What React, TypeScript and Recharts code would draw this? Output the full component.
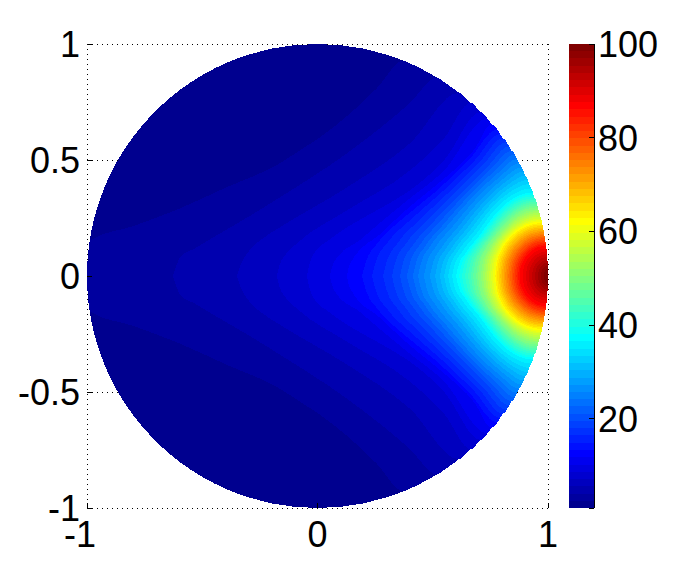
import { Area, CartesianGrid, ComposedChart, XAxis, YAxis } from "recharts";

const FONT = "'Liberation Sans', Arial, sans-serif";

const xTicks = [-1, 0, 1];
const yTicks = [-1, -0.5, 0, 0.5, 1];
const colorbarTicks = [1, 20, 40, 60, 80, 100];

// jet colormap, one colour per band
const bandColors = [
  "#00008f", "#00009f", "#0000af", "#0000bf", "#0000cf", "#0000df", "#0000ef", "#0000ff",
  "#0010ff", "#0020ff", "#0030ff", "#0040ff", "#0050ff", "#0060ff", "#0070ff", "#0080ff",
  "#008fff", "#009fff", "#00afff", "#00bfff", "#00cfff", "#00dfff", "#00efff", "#00ffff",
  "#10ffef", "#20ffdf", "#30ffcf", "#40ffbf", "#50ffaf", "#60ff9f", "#70ff8f", "#80ff80",
  "#8fff70", "#9fff60", "#afff50", "#bfff40", "#cfff30", "#dfff20", "#efff10", "#ffff00",
  "#ffef00", "#ffdf00", "#ffcf00", "#ffbf00", "#ffaf00", "#ff9f00", "#ff8f00", "#ff8000",
  "#ff7000", "#ff6000", "#ff5000", "#ff4000", "#ff3000", "#ff2000", "#ff1000", "#ff0000",
  "#ef0000", "#df0000", "#cf0000", "#bf0000", "#af0000", "#9f0000", "#8f0000", "#800000",
];

const colorbarEdges = [
  1, 2.55, 4.09, 5.64, 7.19, 8.73, 10.28, 11.83, 13.38, 14.92, 16.47, 18.02, 19.56, 21.11, 22.66, 24.2,
  25.75, 27.3, 28.84, 30.39, 31.94, 33.48, 35.03, 36.58, 38.13, 39.67, 41.22, 42.77, 44.31, 45.86, 47.41, 48.95,
  50.5, 52.05, 53.59, 55.14, 56.69, 58.23, 59.78, 61.33, 62.88, 64.42, 65.97, 67.52, 69.06, 70.61, 72.16, 73.7,
  75.25, 76.8, 78.34, 79.89, 81.44, 82.98, 84.53, 86.08, 87.63, 89.17, 90.72, 92.27, 93.81, 95.36, 96.91, 98.45, 100,
];

// outline of the disk (upper half, image is mirrored about y = 0)
const diskX = [
  -1, -0.9995, -0.998, -0.996, -0.993, -0.99, -0.985, -0.98, -0.97, -0.96, -0.94, -0.92, -0.9, -0.87, -0.84, -0.8,
  -0.75, -0.7, -0.65, -0.6, -0.55, -0.5, -0.45, -0.4, -0.35, -0.3, -0.2, -0.1, 0, 0.1, 0.2, 0.3,
  0.35, 0.4, 0.45, 0.5, 0.55, 0.6, 0.65, 0.7, 0.75, 0.8, 0.84, 0.87, 0.9, 0.92, 0.94, 0.96,
  0.97, 0.98, 0.985, 0.99, 0.993, 0.996, 0.998, 0.9995, 1,
];
const diskH = [
  0, 0.032, 0.063, 0.089, 0.118, 0.141, 0.173, 0.199, 0.243, 0.28, 0.341, 0.392, 0.436, 0.493, 0.543, 0.6,
  0.661, 0.714, 0.76, 0.8, 0.835, 0.866, 0.893, 0.917, 0.937, 0.954, 0.98, 0.995, 1, 0.995, 0.98, 0.954,
  0.937, 0.917, 0.893, 0.866, 0.835, 0.8, 0.76, 0.714, 0.661, 0.6, 0.543, 0.493, 0.436, 0.392, 0.341, 0.28,
  0.243, 0.199, 0.173, 0.141, 0.118, 0.089, 0.063, 0.032, 0,
];

// contour of level n+1: x positions and half-height at each x
const contourX = [
  [-0.987, -0.8, -0.6, -0.4, -0.163, -0.076, 0.011, 0.141, 0.258, 0.372],
  [-0.627, -0.61, -0.597, -0.53, -0.453, -0.3, -0.163, 0.128, 0.4, 0.518],
  [-0.349, -0.335, -0.306, -0.24, -0.163, 0.128, 0.401, 0.612],
  [-0.176, -0.165, -0.14, -0.09, 0.128, 0.401, 0.55, 0.665],
  [-0.046, -0.035, -0.02, 0.05, 0.128, 0.27, 0.401, 0.55, 0.707],
  [0.054, 0.062, 0.076, 0.184, 0.29, 0.401, 0.55, 0.735],
  [0.128, 0.136, 0.15, 0.271, 0.401, 0.55, 0.68, 0.755],
  [0.193, 0.211, 0.263, 0.368, 0.514, 0.66, 0.777],
  [0.236, 0.253, 0.303, 0.403, 0.541, 0.68, 0.791],
  [0.284, 0.3, 0.346, 0.44, 0.57, 0.7, 0.804],
  [0.323, 0.338, 0.382, 0.471, 0.595, 0.718, 0.817],
  [0.358, 0.372, 0.415, 0.5, 0.618, 0.736, 0.83],
  [0.388, 0.402, 0.442, 0.524, 0.638, 0.751, 0.842],
  [0.414, 0.427, 0.467, 0.546, 0.655, 0.765, 0.853],
  [0.436, 0.449, 0.487, 0.564, 0.671, 0.778, 0.864],
  [0.462, 0.474, 0.511, 0.586, 0.689, 0.792, 0.874],
  [0.488, 0.5, 0.536, 0.607, 0.706, 0.805, 0.884],
  [0.51, 0.521, 0.556, 0.625, 0.721, 0.816, 0.893],
  [0.531, 0.542, 0.576, 0.642, 0.735, 0.828, 0.902],
  [0.549, 0.56, 0.592, 0.657, 0.748, 0.838, 0.91],
  [0.566, 0.577, 0.608, 0.672, 0.76, 0.848, 0.918],
  [0.584, 0.594, 0.625, 0.687, 0.772, 0.858, 0.926],
  [0.601, 0.611, 0.641, 0.701, 0.784, 0.867, 0.933],
  [0.614, 0.624, 0.653, 0.711, 0.791, 0.872, 0.936],
  [0.627, 0.636, 0.664, 0.721, 0.799, 0.877, 0.939],
  [0.64, 0.649, 0.676, 0.731, 0.806, 0.882, 0.942],
  [0.653, 0.662, 0.688, 0.741, 0.814, 0.887, 0.945],
  [0.666, 0.674, 0.7, 0.75, 0.821, 0.891, 0.947],
  [0.675, 0.683, 0.708, 0.758, 0.826, 0.895, 0.95],
  [0.688, 0.696, 0.72, 0.768, 0.834, 0.9, 0.953],
  [0.696, 0.704, 0.727, 0.774, 0.838, 0.903, 0.955],
  [0.709, 0.716, 0.739, 0.784, 0.846, 0.908, 0.958],
  [0.718, 0.725, 0.747, 0.791, 0.851, 0.912, 0.96],
  [0.727, 0.734, 0.755, 0.798, 0.856, 0.915, 0.962],
  [0.735, 0.742, 0.763, 0.804, 0.862, 0.919, 0.965],
  [0.744, 0.751, 0.771, 0.811, 0.867, 0.922, 0.967],
  [0.753, 0.759, 0.779, 0.818, 0.872, 0.926, 0.969],
  [0.761, 0.767, 0.786, 0.824, 0.877, 0.929, 0.971],
  [0.77, 0.776, 0.794, 0.831, 0.881, 0.932, 0.972],
  [0.772, 0.778, 0.796, 0.833, 0.883, 0.934, 0.974],
  [0.779, 0.785, 0.803, 0.838, 0.887, 0.936, 0.975],
  [0.786, 0.792, 0.809, 0.843, 0.891, 0.939, 0.977],
  [0.793, 0.799, 0.815, 0.849, 0.895, 0.941, 0.978],
  [0.8, 0.805, 0.821, 0.854, 0.898, 0.943, 0.979],
  [0.807, 0.812, 0.828, 0.859, 0.903, 0.946, 0.981],
  [0.814, 0.819, 0.834, 0.864, 0.906, 0.948, 0.982],
  [0.821, 0.826, 0.84, 0.87, 0.91, 0.951, 0.983],
  [0.828, 0.833, 0.847, 0.875, 0.914, 0.953, 0.984],
  [0.835, 0.84, 0.853, 0.88, 0.918, 0.956, 0.986],
  [0.842, 0.846, 0.859, 0.886, 0.922, 0.958, 0.987],
  [0.849, 0.853, 0.866, 0.891, 0.925, 0.96, 0.988],
  [0.856, 0.86, 0.872, 0.896, 0.929, 0.962, 0.989],
  [0.863, 0.867, 0.878, 0.901, 0.933, 0.965, 0.99],
  [0.87, 0.874, 0.885, 0.906, 0.937, 0.967, 0.991],
  [0.877, 0.88, 0.891, 0.912, 0.94, 0.969, 0.992],
  [0.89, 0.893, 0.902, 0.921, 0.947, 0.972, 0.993],
  [0.904, 0.907, 0.915, 0.931, 0.954, 0.976, 0.994],
  [0.917, 0.919, 0.926, 0.941, 0.96, 0.98, 0.9956],
  [0.931, 0.933, 0.939, 0.951, 0.967, 0.984, 0.9966],
  [0.944, 0.946, 0.95, 0.96, 0.974, 0.987, 0.9975],
  [0.957, 0.958, 0.962, 0.969, 0.98, 0.99, 0.9983],
  [0.97, 0.971, 0.973, 0.979, 0.986, 0.993, 0.9989],
  [0.983, 0.9835, 0.985, 0.988, 0.992, 0.996, 0.9994],
];
const contourH = [
  [0.153, 0.215, 0.29, 0.38, 0.486, 0.542, 0.598, 0.7, 0.81, 0.928],
  [0, 0.05, 0.08, 0.12, 0.166, 0.255, 0.339, 0.529, 0.745, 0.855],
  [0, 0.045, 0.097, 0.16, 0.21, 0.382, 0.572, 0.79],
  [0, 0.045, 0.09, 0.14, 0.283, 0.455, 0.595, 0.747],
  [0, 0.05, 0.09, 0.155, 0.21, 0.29, 0.369, 0.5, 0.707],
  [0, 0.035, 0.067, 0.155, 0.245, 0.335, 0.455, 0.678],
  [0, 0.04, 0.067, 0.18, 0.3, 0.42, 0.545, 0.655],
  [0, 0.063, 0.145, 0.246, 0.365, 0.504, 0.63],
  [0, 0.062, 0.143, 0.242, 0.363, 0.496, 0.612],
  [0, 0.061, 0.14, 0.239, 0.361, 0.488, 0.594],
  [0, 0.06, 0.137, 0.235, 0.357, 0.479, 0.576],
  [0, 0.059, 0.134, 0.231, 0.353, 0.469, 0.558],
  [0, 0.058, 0.131, 0.227, 0.349, 0.46, 0.54],
  [0, 0.056, 0.128, 0.222, 0.345, 0.45, 0.522],
  [0, 0.055, 0.125, 0.218, 0.339, 0.439, 0.504],
  [0, 0.054, 0.122, 0.213, 0.334, 0.429, 0.486],
  [0, 0.052, 0.119, 0.208, 0.328, 0.418, 0.468],
  [0, 0.051, 0.116, 0.203, 0.321, 0.406, 0.45],
  [0, 0.05, 0.112, 0.197, 0.314, 0.395, 0.432],
  [0, 0.048, 0.108, 0.191, 0.306, 0.383, 0.414],
  [0, 0.046, 0.105, 0.185, 0.298, 0.37, 0.396],
  [0, 0.045, 0.101, 0.179, 0.29, 0.357, 0.378],
  [0, 0.043, 0.097, 0.173, 0.281, 0.344, 0.36],
  [0, 0.045, 0.1, 0.174, 0.277, 0.337, 0.352],
  [0, 0.046, 0.101, 0.175, 0.273, 0.33, 0.344],
  [0, 0.048, 0.103, 0.176, 0.269, 0.323, 0.336],
  [0, 0.049, 0.105, 0.176, 0.265, 0.315, 0.328],
  [0, 0.051, 0.107, 0.177, 0.26, 0.308, 0.32],
  [0, 0.051, 0.108, 0.177, 0.256, 0.301, 0.312],
  [0, 0.053, 0.109, 0.177, 0.252, 0.294, 0.304],
  [0, 0.053, 0.11, 0.176, 0.247, 0.287, 0.296],
  [0, 0.054, 0.11, 0.176, 0.242, 0.279, 0.288],
  [0, 0.055, 0.111, 0.175, 0.238, 0.272, 0.28],
  [0, 0.055, 0.111, 0.174, 0.233, 0.264, 0.272],
  [0, 0.055, 0.111, 0.172, 0.228, 0.257, 0.264],
  [0, 0.056, 0.111, 0.171, 0.222, 0.25, 0.256],
  [0, 0.056, 0.11, 0.169, 0.217, 0.242, 0.248],
  [0, 0.056, 0.11, 0.168, 0.213, 0.236, 0.241],
  [0, 0.056, 0.11, 0.167, 0.209, 0.23, 0.235],
  [0, 0.055, 0.107, 0.162, 0.203, 0.223, 0.228],
  [0, 0.053, 0.104, 0.158, 0.198, 0.218, 0.222],
  [0, 0.052, 0.101, 0.153, 0.191, 0.211, 0.215],
  [0, 0.05, 0.098, 0.148, 0.186, 0.205, 0.209],
  [0, 0.048, 0.095, 0.143, 0.18, 0.198, 0.202],
  [0, 0.047, 0.092, 0.138, 0.174, 0.191, 0.195],
  [0, 0.045, 0.089, 0.134, 0.168, 0.185, 0.189],
  [0, 0.044, 0.086, 0.129, 0.162, 0.178, 0.182],
  [0, 0.042, 0.083, 0.125, 0.157, 0.172, 0.176],
  [0, 0.041, 0.079, 0.12, 0.15, 0.166, 0.169],
  [0, 0.039, 0.077, 0.116, 0.145, 0.16, 0.163],
  [0, 0.037, 0.073, 0.111, 0.139, 0.153, 0.156],
  [0, 0.036, 0.071, 0.107, 0.134, 0.147, 0.15],
  [0, 0.034, 0.067, 0.102, 0.127, 0.14, 0.143],
  [0, 0.033, 0.064, 0.097, 0.122, 0.134, 0.137],
  [0, 0.031, 0.061, 0.092, 0.116, 0.127, 0.13],
  [0, 0.028, 0.055, 0.084, 0.105, 0.116, 0.118],
  [0, 0.025, 0.05, 0.075, 0.094, 0.104, 0.106],
  [0, 0.023, 0.044, 0.067, 0.084, 0.092, 0.094],
  [0, 0.02, 0.039, 0.058, 0.073, 0.08, 0.082],
  [0, 0.017, 0.033, 0.05, 0.062, 0.069, 0.07],
  [0, 0.014, 0.027, 0.041, 0.052, 0.057, 0.058],
  [0, 0.011, 0.022, 0.033, 0.041, 0.045, 0.046],
  [0, 0.008, 0.016, 0.024, 0.03, 0.033, 0.034],
];

const diskRows = diskX.map((x, i) => ({ x, band: [-diskH[i], diskH[i]] }));

// a level's region: its own contour, then the disk edge out to x = 1
const levelRows = contourX.map((xs, n) => {
  const own = xs.map((x, i) => ({ x, band: [-contourH[n][i], contourH[n][i]] }));
  const first = xs[0];
  const last = xs[xs.length - 1];
  const head = n === 0 ? diskRows.filter((r) => r.x < first) : [];
  return [...head, ...own, ...diskRows.filter((r) => r.x > last)];
});

const colorbarRows = bandColors.map((_, i) => [
  { x: 0, band: [colorbarEdges[i], colorbarEdges[i + 1]] },
  { x: 1, band: [colorbarEdges[i], colorbarEdges[i + 1]] },
]);

const tickStyle = { fill: "#000", fontSize: 36, fontFamily: FONT };

// the negative label sits a little left of its tick in the original
function XTick({ x, y, payload }: any) {
  return (
    <text x={payload.value < 0 ? x - 7 : x} y={y} dy="0.71em" textAnchor="middle" {...tickStyle}>
      {payload.value}
    </text>
  );
}

export default function App() {
  return (
    <div style={{ position: "absolute", left: 0, top: 0, width: 678, height: 570, background: "#fff", overflow: "hidden" }}>
      {/* disk with filled contours */}
      <div style={{ position: "absolute", left: 0, top: 0, shapeRendering: "crispEdges" }}>
        <ComposedChart width={678} height={570} margin={{ left: 7, right: 130, top: 44, bottom: 19 }}>
          <CartesianGrid
            stroke="#000"
            strokeDasharray="1 4"
            horizontalValues={yTicks}
            verticalValues={xTicks}
          />
          <XAxis
            type="number"
            dataKey="x"
            domain={[-1, 1]}
            ticks={xTicks}
            interval={0}
            height={43}
            allowDataOverflow
            axisLine={false}
            tickSize={-5}
            tickMargin={18}
            tickLine={{ stroke: "#000" }}
            tick={<XTick />}
          />
          <YAxis
            type="number"
            domain={[-1, 1]}
            ticks={yTicks}
            interval={0}
            width={80}
            allowDataOverflow
            axisLine={false}
            tickSize={-5}
            tickMargin={12}
            tickLine={{ stroke: "#000" }}
            tick={tickStyle}
          />
          <Area
            data={diskRows}
            dataKey="band"
            type="linear"
            stroke="none"
            fill={bandColors[0]}
            fillOpacity={1}
            dot={false}
            activeDot={false}
            isAnimationActive={false}
          />
          {levelRows.map((rows, n) => (
            <Area
              key={n}
              data={rows}
              dataKey="band"
              type="monotoneX"
              stroke="none"
              fill={bandColors[n + 1]}
              fillOpacity={1}
              dot={false}
              activeDot={false}
              isAnimationActive={false}
            />
          ))}
        </ComposedChart>
      </div>

      {/* colorbar */}
      <div style={{ position: "absolute", left: 0, top: 0, shapeRendering: "crispEdges" }}>
        <ComposedChart width={678} height={570} margin={{ left: 569, right: 4, top: 44, bottom: 62 }}>
          <XAxis type="number" dataKey="x" domain={[0, 1]} hide />
          <YAxis
            yAxisId="left"
            orientation="left"
            type="number"
            domain={[1, 100]}
            ticks={colorbarTicks}
            interval={0}
            width={0}
            axisLine={false}
            tickSize={-5}
            tickLine={{ stroke: "#000" }}
            tickFormatter={() => ""}
          />
          <YAxis
            yAxisId="right"
            orientation="right"
            type="number"
            domain={[1, 100]}
            ticks={colorbarTicks}
            interval={0}
            width={80}
            axisLine={{ stroke: "#000" }}
            tickSize={-5}
            tickMargin={9}
            tickLine={{ stroke: "#000" }}
            tick={tickStyle}
            tickFormatter={(v) => (v === 1 ? "" : String(v))}
          />
          {colorbarRows.map((rows, i) => (
            <Area
              key={i}
              yAxisId="right"
              data={rows}
              dataKey="band"
              type="linear"
              stroke="none"
              fill={bandColors[i]}
              fillOpacity={1}
              dot={false}
              activeDot={false}
              isAnimationActive={false}
            />
          ))}
        </ComposedChart>
      </div>
    </div>
  );
}
